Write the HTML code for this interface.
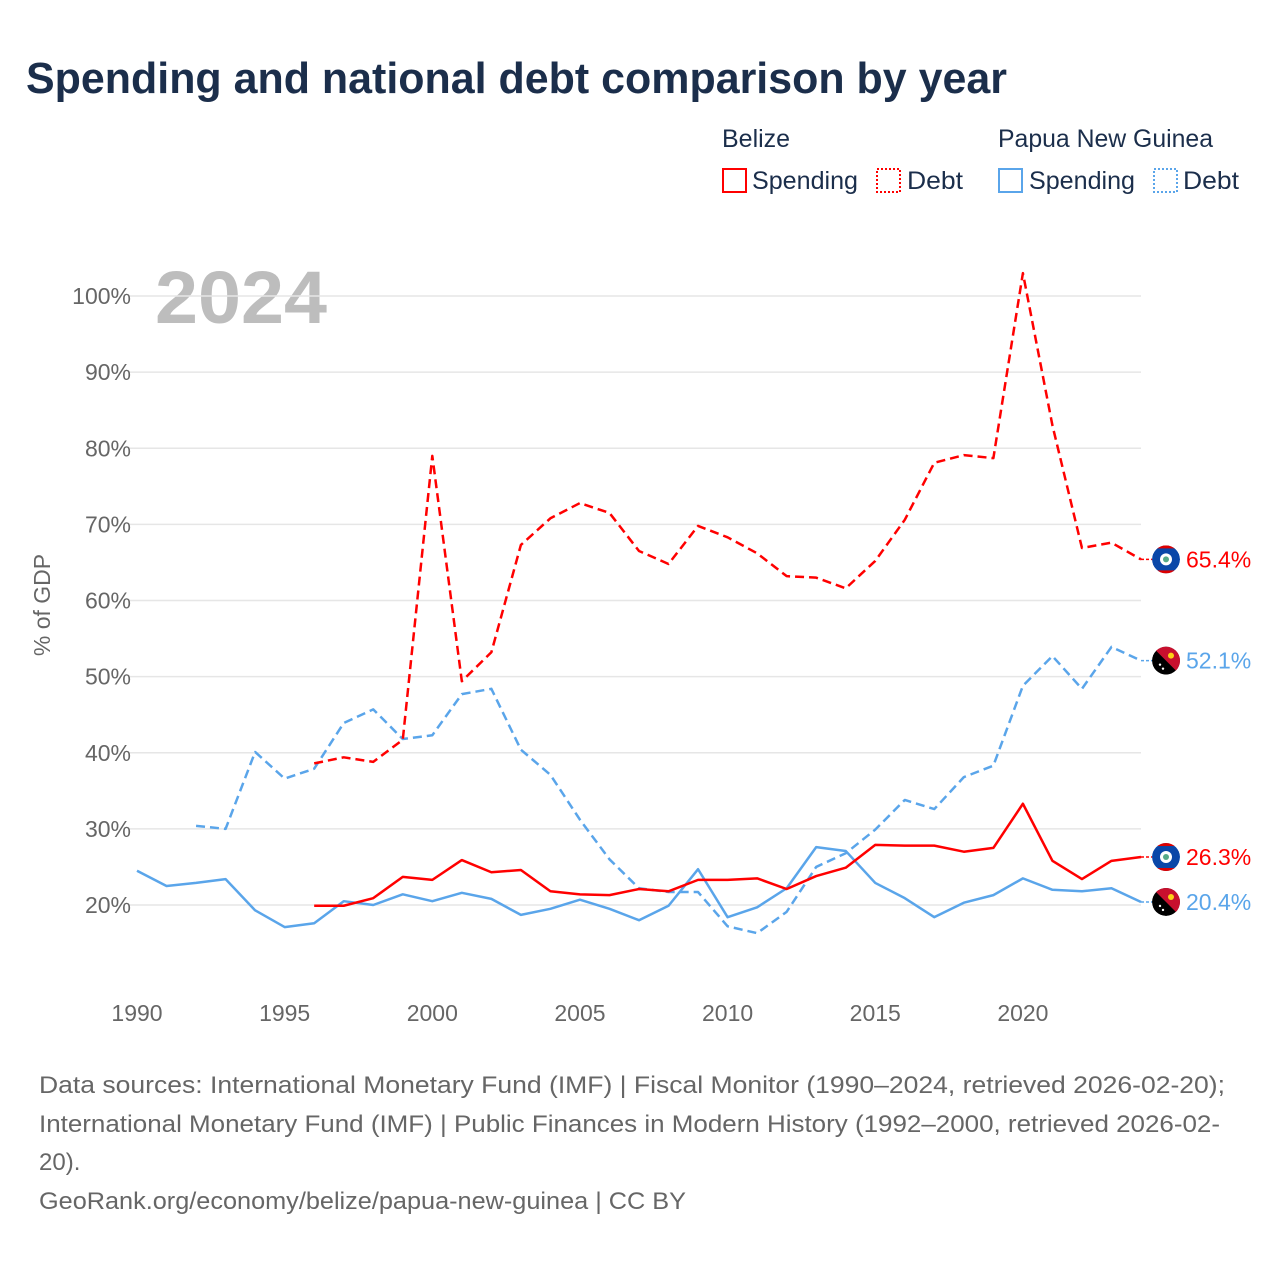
<!DOCTYPE html>
<html><head><meta charset="utf-8"><style>
body{margin:0;background:#fff;font-family:"Liberation Sans",sans-serif}
#wrap{position:relative;width:1280px;height:1280px;overflow:hidden}
</style></head><body><div id="wrap">
<svg id="svg" width="1280" height="1280" xmlns="http://www.w3.org/2000/svg">
<defs><clipPath id="c1"><circle cx="0" cy="0" r="14"/></clipPath></defs>
<text x="26" y="93" font-size="44" font-weight="bold" fill="#1b2e4b" textLength="981" lengthAdjust="spacingAndGlyphs">Spending and national debt comparison by year</text>
<g font-size="25" fill="#1b2e4b">
<text x="722" y="147">Belize</text>
<text x="998" y="147" textLength="215" lengthAdjust="spacingAndGlyphs">Papua New Guinea</text>
<rect x="723" y="169" width="23" height="23" fill="none" stroke="#f00" stroke-width="2"/>
<text x="752" y="189" textLength="106" lengthAdjust="spacingAndGlyphs">Spending</text>
<rect x="877" y="169" width="23" height="23" fill="none" stroke="#f00" stroke-width="2" stroke-dasharray="2 2"/>
<text x="907" y="189" textLength="56" lengthAdjust="spacingAndGlyphs">Debt</text>
<rect x="999" y="169" width="23" height="23" fill="none" stroke="#5aa5ea" stroke-width="2"/>
<text x="1029" y="189" textLength="106" lengthAdjust="spacingAndGlyphs">Spending</text>
<rect x="1154" y="169" width="23" height="23" fill="none" stroke="#5aa5ea" stroke-width="2" stroke-dasharray="2 2"/>
<text x="1183" y="189" textLength="56" lengthAdjust="spacingAndGlyphs">Debt</text>
</g>
<text x="155" y="323" font-size="74" font-weight="bold" fill="#bdbdbd" textLength="172" lengthAdjust="spacingAndGlyphs">2024</text>
<text transform="translate(50,605) rotate(-90)" text-anchor="middle" font-size="23" fill="#666">% of GDP</text>
<g id="grid"></g><g id="series"></g><g id="ends"></g>
<g font-size="24" fill="#666">
<text x="39" y="1093" textLength="1186" lengthAdjust="spacingAndGlyphs">Data sources: International Monetary Fund (IMF) | Fiscal Monitor (1990–2024, retrieved 2026-02-20);</text>
<text x="39" y="1132" textLength="1181" lengthAdjust="spacingAndGlyphs">International Monetary Fund (IMF) | Public Finances in Modern History (1992–2000, retrieved 2026-02-</text>
<text x="39" y="1170">20).</text>
<text x="39" y="1209" textLength="647" lengthAdjust="spacingAndGlyphs">GeoRank.org/economy/belize/papua-new-guinea | CC BY</text>
</g>
</svg>
<script>
const yTicks=[20,30,40,50,60,70,80,90,100];
const xTicks=[1990,1995,2000,2005,2010,2015,2020];
const belizeSpendingYears=[1996,1997,1998,1999,2000,2001,2002,2003,2004,2005,2006,2007,2008,2009,2010,2011,2012,2013,2014,2015,2016,2017,2018,2019,2020,2021,2022,2023,2024];
const belizeSpending=[19.9,19.9,20.9,23.7,23.3,25.9,24.3,24.6,21.8,21.4,21.3,22.1,21.8,23.3,23.3,23.5,22.1,23.8,24.9,27.9,27.8,27.8,27.0,27.5,33.3,25.8,23.4,25.8,26.3];
const belizeDebtYears=belizeSpendingYears;
const belizeDebt=[38.6,39.4,38.8,41.7,79.0,49.4,53.2,67.3,70.8,72.8,71.5,66.5,64.8,69.8,68.3,66.2,63.2,63.0,61.6,65.2,70.6,78.1,79.1,78.7,103.0,83.0,66.9,67.6,65.4];
const pngSpendingYears=[1990,1991,1992,1993,1994,1995,1996,1997,1998,1999,2000,2001,2002,2003,2004,2005,2006,2007,2008,2009,2010,2011,2012,2013,2014,2015,2016,2017,2018,2019,2020,2021,2022,2023,2024];
const pngSpending=[24.5,22.5,22.9,23.4,19.3,17.1,17.6,20.5,20.0,21.4,20.5,21.6,20.8,18.7,19.5,20.7,19.5,18.0,19.9,24.7,18.4,19.7,22.2,27.6,27.1,22.9,20.9,18.4,20.3,21.3,23.5,22.0,21.8,22.2,20.4];
const pngDebtYears=[1992,1993,1994,1995,1996,1997,1998,1999,2000,2001,2002,2003,2004,2005,2006,2007,2008,2009,2010,2011,2012,2013,2014,2015,2016,2017,2018,2019,2020,2021,2022,2023,2024];
const pngDebt=[30.4,30.0,40.1,36.6,37.9,43.9,45.7,41.8,42.3,47.7,48.4,40.4,37.1,31.2,26.0,22.2,21.7,21.7,17.2,16.3,19.1,25.0,26.8,29.9,33.8,32.6,36.8,38.3,48.8,52.7,48.4,53.9,52.1];
const NS='http://www.w3.org/2000/svg';
const X=y=>137+(y-1990)*29.53;
const Y=v=>905-(v-20)*7.6125;
function mk(tag,attrs,parent){const e=document.createElementNS(NS,tag);for(const k in attrs)e.setAttribute(k,attrs[k]);parent.appendChild(e);return e;}
const grid=document.getElementById('grid');
yTicks.forEach(t=>{
  const l=mk('line',{x1:130,x2:1141,y1:Y(t),y2:Y(t),stroke:'#e6e6e6','stroke-width':1.5},grid);
  
  
  const tx=mk('text',{x:131,y:Y(t)+8,'text-anchor':'end','font-size':23,fill:'#666'},grid);
  tx.textContent=t+'%';
  
  
});
xTicks.forEach(t=>{
  const tx=mk('text',{x:X(t),y:1021,'text-anchor':'middle','font-size':23,fill:'#666'},grid);
  tx.textContent=t;
  
  
});
const ser=document.getElementById('series');
function line(yrs,vals,color,dash,name){
  const p=mk('polyline',{points:yrs.map((y,i)=>X(y)+','+Y(vals[i])).join(' '),fill:'none',stroke:color,'stroke-width':2.5,'stroke-linejoin':'round'},ser);
  if(dash)p.setAttribute('stroke-dasharray','9 5');
  
  
}
line(pngSpendingYears,pngSpending,'#5aa5ea',false,'png-spending-line');
line(pngDebtYears,pngDebt,'#5aa5ea',true,'png-debt-line');
line(belizeSpendingYears,belizeSpending,'#f00',false,'belize-spending-line');
line(belizeDebtYears,belizeDebt,'#f00',true,'belize-debt-line');
const ends=document.getElementById('ends');
function endLabel(vals,color,belize,name){
  const v=vals[vals.length-1],y=Y(v);
  mk('line',{x1:1141,x2:1152,y1:y,y2:y,stroke:color,'stroke-width':1.5,'stroke-dasharray':'3 2'},ends);
  const g=mk('g',{transform:`translate(1166,${y})`},ends);
  
  
  const inner=mk('g',{'clip-path':'url(#c1)'},g);
  if(belize){
    mk('circle',{cx:0,cy:0,r:14,fill:'#0a47a8'},inner);
    mk('rect',{x:-14,y:-14,width:28,height:3,fill:'#d00'},inner);
    mk('rect',{x:-14,y:11,width:28,height:3,fill:'#d00'},inner);
    mk('circle',{cx:0,cy:0,r:6,fill:'#fff'},inner);
    mk('circle',{cx:0,cy:0,r:3,fill:'#5a8'},inner);
  }else{
    mk('circle',{cx:0,cy:0,r:14,fill:'#000'},inner);
    mk('path',{d:'M-14,-14 L14,-14 L14,14 Z',fill:'#c8102e'},inner);
    mk('circle',{cx:5,cy:-5,r:3,fill:'#fcd116'},inner);
    mk('circle',{cx:-6,cy:4,r:1.2,fill:'#fff'},inner);
    mk('circle',{cx:-3,cy:8,r:1.2,fill:'#fff'},inner);
  }
  const t=mk('text',{x:1186,y:y+8,'font-size':23,fill:color},ends);
  t.textContent=v.toFixed(1)+'%';
  
  
}
endLabel(belizeDebt,'#f00',true,'belize-debt');
endLabel(pngDebt,'#5aa5ea',false,'png-debt');
endLabel(belizeSpending,'#f00',true,'belize-spending');
endLabel(pngSpending,'#5aa5ea',false,'png-spending');
</script>
</div></body></html>
